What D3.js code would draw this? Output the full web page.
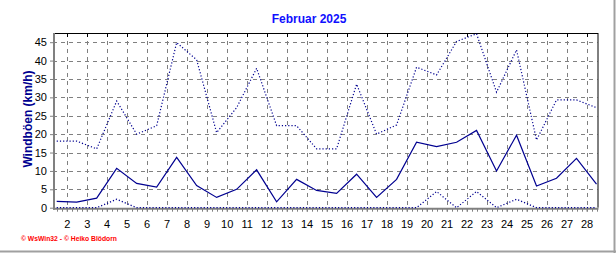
<!DOCTYPE html>
<html><head><meta charset="utf-8">
<script src="https://cdn.jsdelivr.net/npm/d3@7"></script>
<style>body{margin:0;background:#fff}svg{display:block;font-family:Arial,"Liberation Sans",sans-serif}</style>
</head><body><svg id="c" width="616" height="253"></svg>
<script>
const days = d3.range(1, 29);
const xTickLabels = d3.range(2, 29).map(String);
const yTicks = [0,5,10,15,20,25,30,35,40,45];
const gustMax = [18.1,18.1,16.0,29.0,20.0,22.3,44.9,40.2,20.4,27.2,37.9,22.3,22.3,16.0,16.0,33.6,20.0,22.5,38.2,36.1,45.2,47.3,31.4,42.9,18.4,29.3,29.3,27.2];
const gustMean = [1.7,1.5,2.6,10.7,6.6,5.6,13.7,6.0,2.8,5.0,10.3,1.6,7.7,4.7,3.9,9.1,2.8,7.7,17.8,16.6,17.8,21.0,10.0,19.7,5.9,8.0,13.4,6.4];
const gustMin = [0,0,0,2.3,0,0,0,0,0,0,0,0,0,0,0,0,0,0,0,4.4,0,4.4,0,2.3,0,0,0,0];
const title = "Februar 2025";
const yLabel = "Windböen (km/h)";
const credit = "© WsWin32  -  © Heiko Blödorn";

const svg = d3.select("#c");
const L = 53, R = 597.5, T = 33, B = 207.7;
const x = d3.scaleLinear().domain([1.315, 28.55]).range([L, R]);
const y = d3.scaleLinear().domain([0, 47.5]).range([B, T]);

// frame edges
svg.append("line").attr("x1",614.5).attr("x2",614.5).attr("y1",0).attr("y2",253).attr("stroke","#a0a0a0").attr("stroke-width",2);
svg.append("line").attr("x1",0).attr("x2",616).attr("y1",251.5).attr("y2",251.5).attr("stroke","#a0a0a0").attr("stroke-width",2);

// title
svg.append("text").attr("x",309).attr("y",23).attr("text-anchor","middle").attr("font-size",12).attr("font-weight","bold").attr("fill","#1010ff").text(title);

// grid
const grid = svg.append("g").attr("stroke","#808080").attr("stroke-dasharray","4,4").attr("stroke-width",1);
yTicks.filter(v=>v>0).forEach(v=>grid.append("line").attr("x1",L).attr("x2",R).attr("y1",Math.round(y(v))+0.5).attr("y2",Math.round(y(v))+0.5));
d3.range(2,29).forEach(d=>grid.append("line").attr("x1",Math.round(x(d))+0.5).attr("x2",Math.round(x(d))+0.5).attr("y1",T).attr("y2",B));

// border top/right
svg.append("line").attr("x1",L).attr("x2",R+0.5).attr("y1",T+0.5).attr("y2",T+0.5).attr("stroke","#000");
svg.append("line").attr("x1",R+0.5).attr("x2",R+0.5).attr("y1",T).attr("y2",B).attr("stroke","#000");
// top ticks
d3.range(2,29).forEach(d=>svg.append("line").attr("x1",Math.round(x(d))+0.5).attr("x2",Math.round(x(d))+0.5).attr("y1",T).attr("y2",T+4).attr("stroke","#000"));

// axes
const yAxis = d3.axisLeft(y).tickValues(yTicks).tickSize(3).tickPadding(3);
const gy = svg.append("g").attr("transform",`translate(${L},0)`).call(yAxis);
gy.select(".domain").remove();
gy.selectAll(".tick line").attr("stroke","#808080");
gy.selectAll("text").attr("font-size",11).attr("fill","#000").attr("font-family","Arial, 'Liberation Sans', sans-serif");

const xAxis = d3.axisBottom(x).tickValues(d3.range(2,29)).tickFormat((d,i)=>xTickLabels[i]).tickSize(3).tickPadding(9);
const gx = svg.append("g").attr("transform",`translate(0,${B+1})`).call(xAxis);
gx.select(".domain").remove();
gx.selectAll(".tick line").attr("stroke","#808080");
gx.selectAll("text").attr("font-size",11).attr("fill","#000").attr("font-family","Arial, 'Liberation Sans', sans-serif");
// minor ticks
const minor = d3.range(1.5, 28.6, 0.25).filter(v=>x(v)>=L+2 && x(v)<=R);
svg.append("g").selectAll("line").data(minor).join("line")
  .attr("x1",d=>Math.round(x(d))+0.5).attr("x2",d=>Math.round(x(d))+0.5)
  .attr("y1",B+1).attr("y2",B+4).attr("stroke","#808080");

// axis lines grey thick
svg.append("line").attr("x1",L+1).attr("x2",L+1).attr("y1",T).attr("y2",B+2).attr("stroke","#808080").attr("stroke-width",2);
svg.append("line").attr("x1",L).attr("x2",R+1).attr("y1",B+1).attr("y2",B+1).attr("stroke","#808080").attr("stroke-width",2);

// y label
svg.append("text").attr("transform","translate(32,119) rotate(-90)").attr("text-anchor","middle").attr("font-size",12).attr("font-weight","bold").attr("fill","#000090").text(yLabel);

// series
const line = d3.line().x((d,i)=>x(days[i]+0.5)).y(d=>y(d));
svg.append("path").datum(gustMax).attr("d",line).attr("fill","none").attr("stroke","#000090").attr("stroke-width",1.2).attr("stroke-dasharray","1.2,2");
svg.append("path").datum(gustMean).attr("d",line).attr("fill","none").attr("stroke","#000090").attr("stroke-width",1.2);
svg.append("path").datum(gustMin).attr("d",line).attr("fill","none").attr("stroke","#000090").attr("stroke-width",1.2).attr("stroke-dasharray","1.2,2");

// credit
svg.append("text").attr("x",21).attr("y",240.5).attr("font-size",8).attr("font-weight","bold").attr("fill","#ff0000").attr("textLength",96).attr("lengthAdjust","spacingAndGlyphs").text(credit);
</script></body></html>
